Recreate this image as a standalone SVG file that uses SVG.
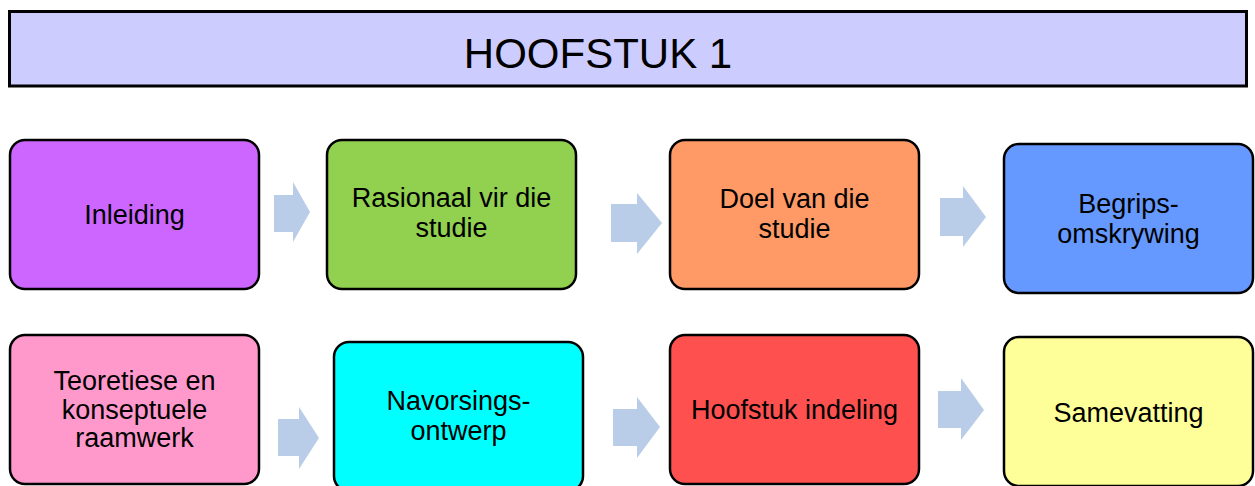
<svg xmlns="http://www.w3.org/2000/svg" width="1255" height="486" viewBox="0 0 1255 486">
  <style>
    .box { stroke: #000; stroke-width: 2.5; }
    .label { font-family: "Liberation Sans", Arial, sans-serif; font-size: 27px; fill: #000; text-anchor: middle; }
    .title { font-family: "Liberation Sans", Arial, sans-serif; font-size: 42px; fill: #000; text-anchor: middle; }
    .flow { fill: #B9CDE8; }
  </style>
  <rect width="1255" height="486" fill="#fff"/>

  <!-- chapter heading bar -->
  <g id="header">
    <rect x="9.5" y="11.5" width="1237" height="74.5" fill="#CCCCFF" stroke="#000" stroke-width="3"/>
    <text class="title" x="598" y="68">HOOFSTUK 1</text>
  </g>

  <!-- first row -->
  <g id="inleiding">
    <rect class="box" x="10" y="140" width="249" height="149" rx="15" fill="#CC66FF"/>
    <text class="label" x="134.5" y="224">Inleiding</text>
  </g>
  <g id="rasionaal">
    <rect class="box" x="327" y="140" width="249" height="149" rx="15" fill="#92D050"/>
    <text class="label" x="451.5" y="207">Rasionaal vir die</text>
    <text class="label" x="451.5" y="237">studie</text>
  </g>
  <g id="doel">
    <rect class="box" x="670" y="140" width="249" height="149" rx="15" fill="#FF9966"/>
    <text class="label" x="794.5" y="208">Doel van die</text>
    <text class="label" x="794.5" y="238">studie</text>
  </g>
  <g id="begrips">
    <rect class="box" x="1004" y="144" width="249" height="149" rx="15" fill="#6699FF"/>
    <text class="label" x="1128.5" y="213">Begrips-</text>
    <text class="label" x="1128.5" y="243">omskrywing</text>
  </g>

  <!-- second row -->
  <g id="teoreties">
    <rect class="box" x="10" y="335" width="249" height="149" rx="15" fill="#FF99CC"/>
    <text class="label" x="134.5" y="390">Teoretiese en</text>
    <text class="label" x="134.5" y="418.5">konseptuele</text>
    <text class="label" x="134.5" y="447">raamwerk</text>
  </g>
  <g id="navorsings">
    <rect class="box" x="334" y="342" width="249" height="149" rx="15" fill="#00FFFF"/>
    <text class="label" x="458.5" y="410">Navorsings-</text>
    <text class="label" x="458.5" y="440">ontwerp</text>
  </g>
  <g id="indeling">
    <rect class="box" x="670" y="335" width="249" height="149" rx="15" fill="#FF5050"/>
    <text class="label" x="794.5" y="419">Hoofstuk indeling</text>
  </g>
  <g id="samevatting">
    <rect class="box" x="1004" y="337" width="249" height="149" rx="15" fill="#FFFF99"/>
    <text class="label" x="1128.5" y="422">Samevatting</text>
  </g>

  <!-- block arrows between steps -->
  <g id="connectors">
    <polygon class="flow" points="274,195 293,195 293,182 310,212 293,242 293,232 274,232"/>
    <polygon class="flow" points="611,204 637,204 637,193 662,223 637,254 637,242 611,242"/>
    <polygon class="flow" points="940,198 963,198 963,186 986,217 963,247 963,236 940,236"/>
    <polygon class="flow" points="278,419 299,419 299,407 319,438 299,469 299,456 278,456"/>
    <polygon class="flow" points="613,409 637,409 637,397 660,427 637,458 637,446 613,446"/>
    <polygon class="flow" points="938,391 961,391 961,378 984,410 961,440 961,428 938,428"/>
  </g>
</svg>
